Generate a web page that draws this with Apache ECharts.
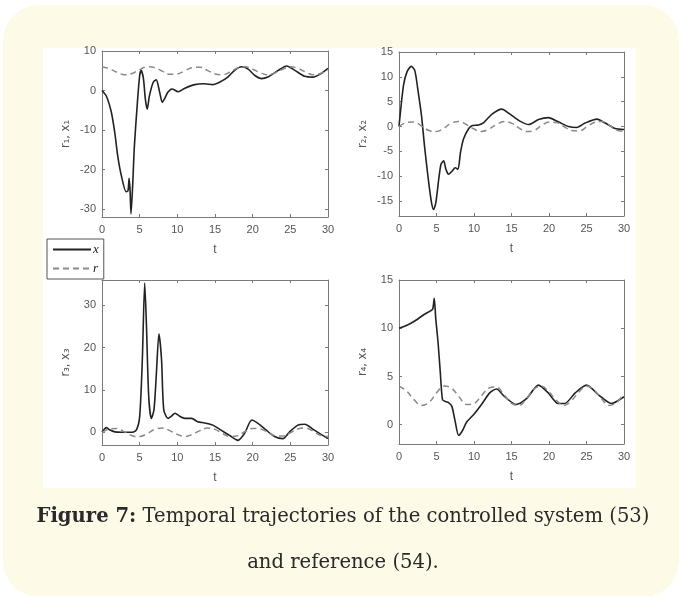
<!DOCTYPE html>
<html>
<head>
<meta charset="utf-8">
<script src="https://cdn.jsdelivr.net/npm/echarts@6/dist/echarts.min.js"></script>
<style>
	html, body { margin: 0; padding: 0; background: #fff; }
	.card { position: absolute; left: 3px; top: 5px; width: 676px; height: 592px; border-radius: 36px; background: #fefae8; }
	.panel { position: absolute; left: 43px; top: 48px; width: 593px; height: 440px; background: #fff; }
	#chart { position: absolute; left: 0; top: 0; width: 679px; height: 596px; }
	.cap { position: absolute; left: 0; width: 686px; text-align: center; font-family: "DejaVu Serif", serif; font-size: 19.6px; color: #2a2a2a; white-space: nowrap; }
</style>
</head>
<body>
<div class="card"></div>
<div class="panel"></div>
<div id="chart"></div>
<div class="cap" style="top:504px"><b>Figure 7:</b> Temporal trajectories of the controlled system (53)</div>
<div class="cap" style="top:550px">and reference (54).</div>
<script>
// 参考轨迹的时间点
const tRef = [0, 1, 2, 3, 4, 5, 6, 7, 8, 9, 10, 11, 12, 13, 14, 15, 16, 17, 18, 19, 20, 21, 22, 23, 24, 25, 26, 27, 28, 29, 30];
const r1 = [6.0, 5.5, 4.6, 4.0, 4.3, 5.3, 6.0, 5.8, 4.9, 4.1, 4.2, 5.0, 5.8, 5.9, 5.1, 4.2, 4.0, 4.7, 5.7, 6.0, 5.4, 4.5, 4.0, 4.5, 5.4, 6.0, 5.6, 4.7, 4.0, 4.3, 5.2];
const r2 = [0, 0.8, 0.9, 0.1, -0.8, -1.0, -0.3, 0.7, 1.0, 0.4, -0.5, -1.0, -0.5, 0.4, 1.0, 0.7, -0.3, -1.0, -0.8, 0.2, 0.9, 0.8, 0, -0.8, -0.9, -0.1, 0.8, 1.0, 0.3, -0.7, -1.0];
const r3 = [0, 0.8, 0.9, 0.1, -0.8, -1.0, -0.3, 0.7, 1.0, 0.4, -0.5, -1.0, -0.5, 0.4, 1.0, 0.7, -0.3, -1.0, -0.8, 0.2, 0.9, 0.8, 0, -0.8, -0.9, -0.1, 0.8, 1.0, 0.3, -0.7, -1.0];
const r4 = [4.0, 3.5, 2.6, 2.0, 2.3, 3.3, 4.0, 3.8, 2.9, 2.1, 2.2, 3.0, 3.8, 3.9, 3.1, 2.2, 2.0, 2.7, 3.7, 4.0, 3.4, 2.5, 2.0, 2.5, 3.4, 4.0, 3.6, 2.7, 2.0, 2.3, 3.2];

// 系统状态 x1..x4（时间点各自不同）
const tX1 = [0, 0.6, 1.24, 1.7, 2.1, 2.6, 3.2, 3.45, 3.6, 3.72, 3.85, 4.07, 4.3, 4.7, 5.0, 5.2, 5.5, 5.75, 6.0, 6.3, 6.8, 7.2, 7.65, 8.0, 8.3, 8.76, 9.3, 10.1, 11, 12.3, 13.6, 14.7, 15.6, 16.7, 17.6, 18.5, 19.4, 20.3, 21.2, 22, 23.4, 24.5, 25.6, 26.9, 28, 29.1, 30];
const x1 = [0, -1.5, -5.5, -10.7, -16.7, -21.8, -25.6, -25.4, -22.2, -25, -31.2, -24, -14, -3, 3.8, 5.1, 3, -2.1, -4.7, -1.3, 2.1, 2.7, -0.4, -3, -2.1, -0.4, 0.4, -0.3, 0.6, 1.5, 1.7, 1.5, 2.1, 3.4, 5.1, 6.0, 5.4, 3.8, 3.0, 3.4, 5.1, 6.2, 5.1, 3.6, 3.4, 4.3, 5.6];

const tX2 = [0, 0.6, 1.07, 1.64, 2.1, 2.5, 3.0, 3.4, 3.86, 4.3, 4.6, 4.9, 5.3, 5.6, 5.95, 6.26, 6.6, 7.06, 7.5, 7.86, 8.2, 8.6, 9.3, 9.8, 10.6, 11.3, 12.4, 13.7, 14.8, 16, 17.3, 18.6, 19.9, 21.3, 22.6, 23.7, 24.8, 26.4, 27.5, 28.8, 30];
const x2 = [0, 8.3, 11, 12.1, 11.3, 7.6, 2.2, -3.9, -10, -15, -16.7, -15.4, -10.6, -7.6, -6.9, -8.6, -9.6, -9, -8.3, -8.6, -5.2, -2.5, -0.4, 0.2, 0.3, 0.8, 2.5, 3.5, 2.5, 1.2, 0.4, 1.4, 1.8, 0.9, 0, -0.2, 0.7, 1.5, 0.7, -0.4, -0.6];

const tX3 = [0, 0.58, 1.0, 1.7, 2.6, 3.9, 4.55, 5.0, 5.35, 5.67, 5.9, 6.2, 6.55, 6.9, 7.2, 7.56, 7.9, 8.2, 8.76, 9.2, 9.7, 10.3, 11, 11.9, 12.7, 13.6, 14.7, 15.8, 16.9, 18.05, 18.9, 19.9, 20.7, 21.8, 22.9, 24.0, 24.9, 26, 26.9, 28.2, 30];
const x3 = [0, 1.1, 0.6, 0.1, 0, 0, 0.5, 3.7, 17, 35.3, 25.3, 8.5, 3.3, 5.3, 13.3, 23.3, 17.3, 5.3, 3.3, 3.8, 4.5, 3.8, 3.3, 3.3, 2.5, 2.2, 1.7, 0.5, -0.7, -1.9, -0.3, 2.9, 2.1, 0.5, -1, -1.5, 0.1, 1.7, 1.9, 0.5, -1.5];

const tX4 = [0, 1.06, 2.2, 3.3, 4.2, 4.5, 4.7, 4.9, 5.2, 5.5, 5.8, 6.2, 6.6, 7.05, 7.5, 7.95, 8.4, 9.05, 9.9, 11.0, 12.1, 13.0, 14.1, 15.6, 17, 18.6, 19.9, 21.2, 22.1, 23.5, 25, 26.6, 28.3, 30];
const x4 = [10, 10.3, 10.8, 11.4, 11.8, 12, 13.1, 11, 8.6, 5.5, 2.6, 2.4, 2.3, 1.9, 0.3, -1.1, -0.7, 0.3, 1, 2.1, 3.3, 3.7, 2.9, 2.1, 2.7, 4.1, 3.3, 2.2, 2.2, 3.3, 4.1, 3.1, 2.2, 2.9];

// 坐标轴标签与刻度
const xTicks = [0, 5, 10, 15, 20, 25, 30];
const yTicks = [[-30, -20, -10, 0, 10], [-15, -10, -5, 0, 5, 10, 15], [0, 10, 20, 30], [0, 5, 10, 15]];
const yRange = [[-32, 10], [-18, 15], [-3, 36], [-2, 15]];
const yNames = ["r\u2081, x\u2081", "r\u2082, x\u2082", "r\u2083, x\u2083", "r\u2084, x\u2084"];

const grids = [
	{ left: 102, top: 51, width: 226, height: 166 },
	{ left: 399, top: 52, width: 225, height: 164 },
	{ left: 102, top: 280, width: 226, height: 165 },
	{ left: 399, top: 280, width: 225, height: 164 },
];

const axisColor = "#7a7a7a";
const labelStyle = { color: "#555", fontSize: 11, fontFamily: "Liberation Sans, Arial, sans-serif" };
const lineAxis = { show: true, onZero: false, lineStyle: { color: axisColor, width: 1 } };

const pairs = (ts, vs) => ts.map((t, i) => [t, vs[i]]);

const xAxes = [];
const yAxes = [];
grids.forEach((g, i) => {
	// 下方 x 轴
	xAxes.push({
		type: "value", gridIndex: i, min: 0, max: 30, interval: 5,
		name: "t", nameLocation: "middle", nameGap: 27,
		nameTextStyle: { color: "#555", fontSize: 12, fontFamily: "Liberation Sans, Arial, sans-serif" },
		axisLine: lineAxis,
		axisTick: { show: true, inside: true, length: 3, customValues: xTicks, lineStyle: { color: axisColor } },
		axisLabel: { ...labelStyle, margin: 7, customValues: xTicks },
		splitLine: { show: false },
	});
	// 左侧 y 轴
	yAxes.push({
		type: "value", gridIndex: i, min: yRange[i][0], max: yRange[i][1],
		name: yNames[i], nameLocation: "middle", nameGap: 30, nameRotate: 90,
		nameTextStyle: { color: "#555", fontSize: 11.5, fontFamily: "DejaVu Sans, sans-serif" },
		axisLine: lineAxis,
		axisTick: { show: true, inside: true, length: 3, customValues: yTicks[i], lineStyle: { color: axisColor } },
		axisLabel: { ...labelStyle, margin: 6, customValues: yTicks[i] },
		splitLine: { show: false },
	});
});
grids.forEach((g, i) => {
	// 上方和右侧的边框轴（只有刻度）
	xAxes.push({
		type: "value", gridIndex: i, position: "top", min: 0, max: 30, interval: 5,
		axisLine: lineAxis,
		axisTick: { show: true, inside: true, length: 3, customValues: xTicks, lineStyle: { color: axisColor } },
		axisLabel: { show: false }, splitLine: { show: false },
	});
	yAxes.push({
		type: "value", gridIndex: i, position: "right", min: yRange[i][0], max: yRange[i][1],
		axisLine: lineAxis,
		axisTick: { show: true, inside: true, length: 3, customValues: yTicks[i], lineStyle: { color: axisColor } },
		axisLabel: { show: false }, splitLine: { show: false },
	});
});

const xData = [pairs(tX1, x1), pairs(tX2, x2), pairs(tX3, x3), pairs(tX4, x4)];
const rData = [pairs(tRef, r1), pairs(tRef, r2), pairs(tRef, r3), pairs(tRef, r4)];

const series = [];
xData.forEach((d, i) => {
	series.push({
		name: "x", type: "line", xAxisIndex: i, yAxisIndex: i, data: d,
		showSymbol: false, symbol: "none", smooth: 0.25,
		lineStyle: { color: "#222", width: 1.6 }, itemStyle: { color: "#222" },
	});
});
rData.forEach((d, i) => {
	series.push({
		name: "r", type: "line", xAxisIndex: i, yAxisIndex: i, data: d,
		showSymbol: false, symbol: "none", smooth: 0.4,
		lineStyle: { color: "#8a8a8a", width: 1.5, type: [6, 4] }, itemStyle: { color: "#8a8a8a" },
	});
});

const chart = echarts.init(document.getElementById("chart"), null, { renderer: "canvas" });
chart.setOption({
	animation: false,
	backgroundColor: "transparent",
	grid: grids,
	xAxis: xAxes,
	yAxis: yAxes,
	legend: {
		data: ["x", "r"], orient: "vertical", left: 47, top: 239,
		itemWidth: 38, itemHeight: 10, itemGap: 6,
		itemStyle: { opacity: 0 },
		padding: [4, 5, 4, 5], borderColor: "#555", borderWidth: 1, backgroundColor: "#fff",
		textStyle: { fontFamily: "Liberation Serif, serif", fontStyle: "italic", fontSize: 13, color: "#222", padding: [0, 0, 0, -3] },
	},
	series: series,
});
</script>
</body>
</html>
